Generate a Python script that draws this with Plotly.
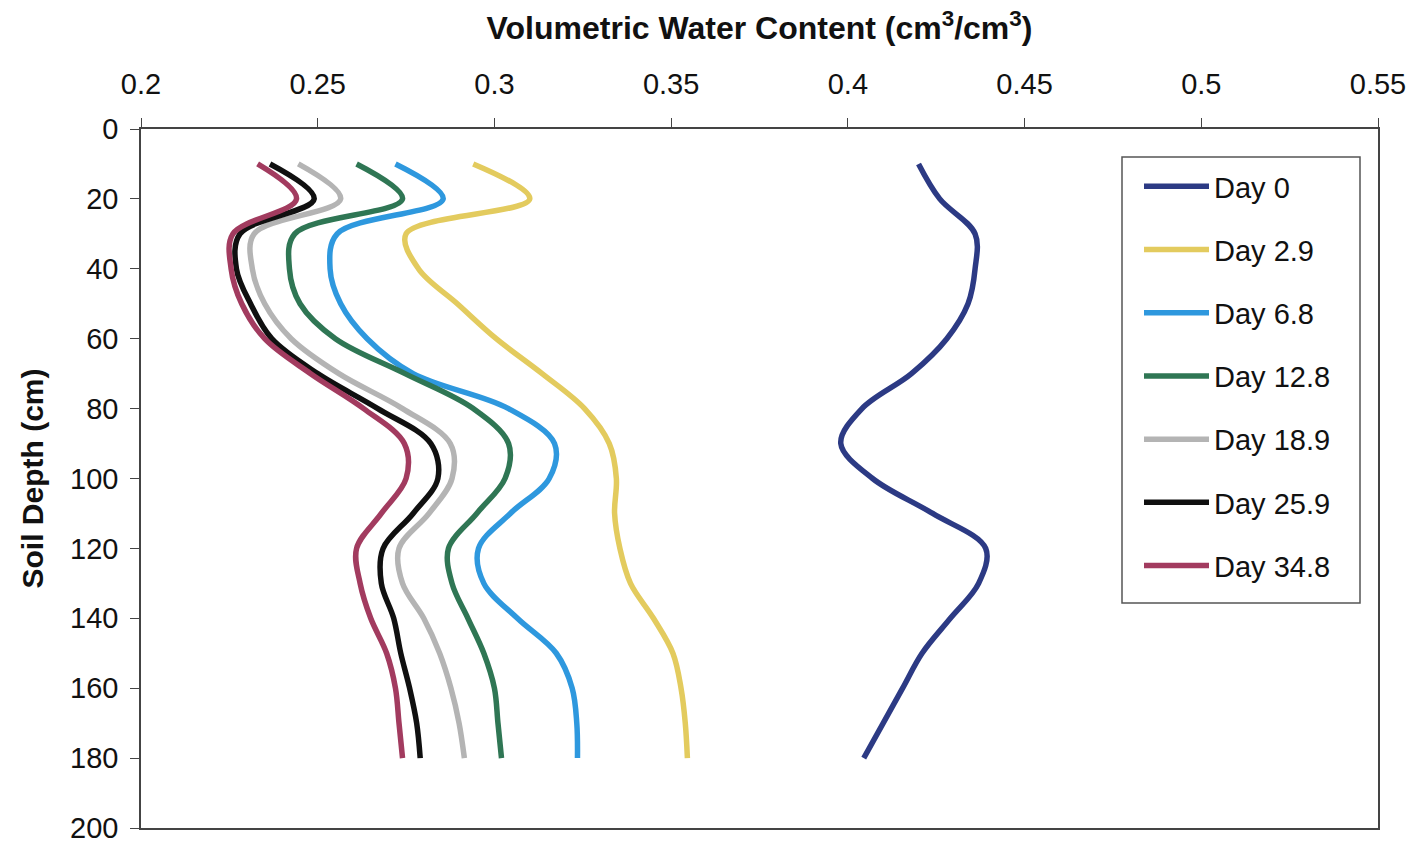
import plotly.graph_objects as go

depth = [10, 20, 30, 40, 50, 60, 70, 80, 90, 100, 110, 120, 130, 140, 150, 160, 170, 180]

day_0 = [0.420, 0.426, 0.436, 0.436, 0.434, 0.428, 0.418, 0.404, 0.398, 0.407,
         0.424, 0.439, 0.437, 0.429, 0.421, 0.4155, 0.410, 0.4045]
day_2_9 = [0.294, 0.310, 0.275, 0.2785, 0.2895, 0.3005, 0.3135, 0.3255, 0.3325, 0.3345,
           0.334, 0.3355, 0.3385, 0.345, 0.3505, 0.3528, 0.354, 0.3546]
day_6_8 = [0.272, 0.2855, 0.2555, 0.2535, 0.2565, 0.264, 0.277, 0.304, 0.317, 0.3155,
           0.3045, 0.2955, 0.297, 0.3065, 0.3175, 0.322, 0.3233, 0.3235]
day_12_8 = [0.261, 0.274, 0.2435, 0.242, 0.245, 0.255, 0.2747, 0.294, 0.304, 0.303,
            0.295, 0.287, 0.288, 0.2925, 0.297, 0.300, 0.301, 0.302]
day_18_9 = [0.2445, 0.2565, 0.232, 0.2315, 0.235, 0.2425, 0.256, 0.274, 0.2875, 0.288,
            0.2815, 0.273, 0.274, 0.280, 0.2845, 0.2877, 0.290, 0.2915]
day_25_9 = [0.2365, 0.249, 0.228, 0.227, 0.231, 0.237, 0.250, 0.267, 0.282, 0.284,
            0.277, 0.2685, 0.268, 0.2715, 0.2735, 0.276, 0.278, 0.279]
day_34_8 = [0.233, 0.244, 0.226, 0.2255, 0.2285, 0.235, 0.248, 0.263, 0.2745, 0.275,
            0.268, 0.261, 0.262, 0.265, 0.2695, 0.272, 0.273, 0.274]

series_names = ["Day 0", "Day 2.9", "Day 6.8", "Day 12.8", "Day 18.9", "Day 25.9", "Day 34.8"]
series_values = [day_0, day_2_9, day_6_8, day_12_8, day_18_9, day_25_9, day_34_8]
colors = ["#2C3A84", "#E3CB5E", "#2E98DE", "#2F7654", "#B4B4B4", "#101010", "#A23B5F"]

x_ticks = [0.2, 0.25, 0.3, 0.35, 0.4, 0.45, 0.5, 0.55]
x_tick_text = ["0.2", "0.25", "0.3", "0.35", "0.4", "0.45", "0.5", "0.55"]
y_ticks = [0, 20, 40, 60, 80, 100, 120, 140, 160, 180, 200]

FONT = "Liberation Sans, Arial, sans-serif"

# plot-area pixel geometry (for placing the legend)
L, R, T, B = 141, 1378, 129, 828
PW, PH = R - L, B - T


def px_x(px):
    return (px - L) / PW


def px_y(py):
    return 1 - (py - T) / PH


fig = go.Figure()
for i, (name, vals, col) in enumerate(zip(series_names, series_values, colors)):
    fig.add_trace(go.Scatter(
        x=vals, y=depth, name=name, mode="lines",
        line=dict(color=col, width=5.5, shape="spline", smoothing=1.0),
        legendgroup=f"g{i}",
    ))

# legend frame
fig.add_shape(type="rect", xref="paper", yref="paper",
              x0=px_x(1122), x1=px_x(1360), y0=px_y(603), y1=px_y(157),
              line=dict(color="#555", width=1.5), fillcolor="white", layer="below")

fig.update_layout(
    width=1418, height=844,
    margin=dict(l=L, r=1418 - R, t=T, b=844 - B, autoexpand=False),
    paper_bgcolor="white", plot_bgcolor="white",
    font=dict(family=FONT, size=29, color="#111"),
    showlegend=True,
    legend=dict(
        x=px_x(1139), y=px_y(161),
        xanchor="left", yanchor="top",
        bgcolor="rgba(0,0,0,0)", borderwidth=0,
        font=dict(family=FONT, size=29, color="#111"),
        itemwidth=65, tracegroupgap=22.5, traceorder="grouped",
    ),
    xaxis=dict(
        side="top", range=[0.2, 0.55], tickvals=x_ticks, ticktext=x_tick_text,
        showgrid=False, zeroline=False, automargin=False,
        showline=True, linecolor="#444", linewidth=1.5, mirror=True,
        ticks="outside", ticklen=9, tickcolor="#444", tickwidth=1.2,
        ticklabelstandoff=13,
        title=dict(text="<b>Volumetric Water Content (cm<sup>3</sup>/cm<sup>3</sup>)</b>",
                   font=dict(family=FONT, size=32), standoff=18),
    ),
    yaxis=dict(
        range=[200, 0], tickvals=y_ticks,
        showgrid=False, zeroline=False, automargin=False,
        showline=True, linecolor="#444", linewidth=1.5, mirror=True,
        ticks="outside", ticklen=9, tickcolor="#444", tickwidth=1.2,
        ticklabelstandoff=6, ticklabeloverflow="allow",
        title=dict(text="<b>Soil Depth (cm)</b>", font=dict(family=FONT, size=30), standoff=18),
    ),
)

fig.write_html("out.html")
